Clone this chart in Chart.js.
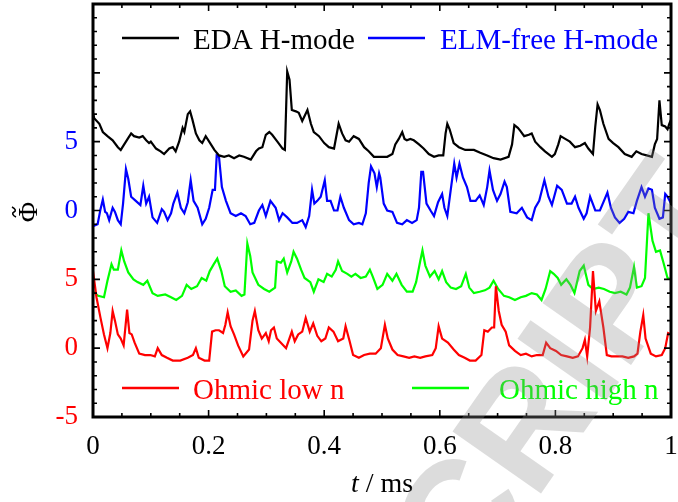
<!DOCTYPE html>
<html><head><meta charset="utf-8">
<script src="https://cdn.jsdelivr.net/npm/chart.js@4.4.1/dist/chart.umd.min.js"></script>
<style>html,body{margin:0;padding:0;background:#fff;}#wrap{width:678px;height:502px;}</style>
</head><body><div id="wrap"><canvas id="c" width="678" height="502"></canvas></div>
<script>
// ---- data (t in ms, values in the plot's stacked Phi units) ----
const edaT=[0,0.002,0.011,0.017,0.025,0.034,0.043,0.048,0.054,0.060,0.066,0.071,0.080,0.086,0.092,0.097,0.100,0.109,0.117,0.123,0.132,0.138,0.143,0.149,0.155,0.158,0.164,0.168,0.172,0.178,0.184,0.189,0.195,0.201,0.210,0.218,0.227,0.235,0.244,0.253,0.261,0.273,0.282,0.287,0.293,0.299,0.305,0.310,0.319,0.328,0.332,0.336,0.340,0.344,0.351,0.356,0.362,0.371,0.377,0.382,0.391,0.400,0.408,0.417,0.425,0.431,0.437,0.443,0.451,0.460,0.469,0.477,0.486,0.497,
0.509,0.518,0.523,0.529,0.535,0.539,0.543,0.549,0.555,0.564,0.572,0.581,0.590,0.598,0.606,0.610,0.613,0.617,0.624,0.633,0.644,0.659,0.670,0.682,0.693,0.705,0.719,0.725,0.729,0.735,0.739,0.746,0.754,0.759,0.765,0.774,0.782,0.794,0.799,0.805,0.809,0.817,0.825,0.834,0.843,0.851,0.857,0.865,0.869,0.873,0.877,0.883,0.892,0.900,0.909,0.920,0.932,0.940,0.949,0.958,0.967,0.972,0.976,0.980,0.984,0.990,0.994,0.997,1.0];
const edaV=[17.1,16.7,16.3,15.7,15.4,15.1,14.6,14.4,14.8,15.2,15.6,15.4,15.3,15.4,15.1,14.9,15.0,14.5,14.3,14.1,14.5,14.6,14.3,15.0,16.0,15.7,17.0,17.2,16.6,15.6,15.1,14.9,15.4,15.0,14.4,14.0,13.9,14.0,13.8,14.0,13.9,13.7,14.3,14.5,14.6,15.5,15.7,15.5,15.0,14.5,14.4,20.1,19.5,17.3,17.2,17.1,16.5,17.3,16.3,15.7,15.4,14.9,14.6,14.5,16.3,15.6,15.1,15.0,15.4,15.2,14.6,14.3,13.9,13.9,
13.9,14.1,14.8,15.2,15.7,15.2,15.1,15.2,15.1,14.8,14.5,14.1,13.9,14.0,14.0,15.6,16.3,15.9,14.9,14.6,14.4,14.4,14.2,14.0,13.8,13.7,13.9,14.8,16.2,16.0,15.8,15.4,15.5,15.6,15.0,14.6,14.3,13.9,14.1,14.8,15.4,15.2,15.0,14.6,14.7,14.9,14.5,14.1,16.1,17.7,17.3,16.3,15.2,14.9,14.6,14.1,13.9,14.3,14.1,14.0,13.9,14.8,15.2,18.0,16.2,16.1,15.9,16.3,16.6];

const elmT=[0,0.002,0.008,0.013,0.017,0.021,0.024,0.028,0.034,0.038,0.043,0.048,0.052,0.057,0.061,0.066,0.074,0.082,0.087,0.092,0.097,0.103,0.111,0.119,0.123,0.129,0.135,0.139,0.146,0.152,0.158,0.164,0.169,0.174,0.181,0.189,0.195,0.201,0.207,0.211,0.214,0.218,0.223,0.230,0.238,0.247,0.256,0.264,0.272,0.279,0.287,0.293,0.299,0.307,0.316,0.322,0.328,0.336,0.345,0.353,0.362,0.368,0.374,0.379,0.383,0.388,0.394,0.401,0.405,0.411,0.417,0.423,0.428,0.434,0.443,0.451,0.460,0.466,0.472,0.477,0.481,0.487,0.491,0.495,
0.497,0.503,0.509,0.518,0.526,0.535,0.543,0.552,0.560,0.564,0.568,0.571,0.577,0.584,0.590,0.597,0.604,0.608,0.613,0.618,0.625,0.629,0.634,0.640,0.647,0.653,0.662,0.669,0.676,0.682,0.686,0.692,0.699,0.705,0.712,0.716,0.722,0.733,0.742,0.751,0.759,0.765,0.772,0.781,0.788,0.794,0.803,0.811,0.820,0.828,0.834,0.840,0.849,0.854,0.860,0.869,0.877,0.884,0.890,0.896,0.903,0.911,0.919,0.926,0.935,0.941,0.949,0.955,0.961,0.967,0.972,0.980,0.986,0.990,0.994,0.999,1.0];
const elmV=[9.0,8.9,9.0,10.1,10.8,9.9,9.8,9.3,10.2,9.9,9.3,9.0,10.5,13.0,12.3,11.0,10.7,10.4,11.8,10.5,11.0,9.5,9.1,10.1,9.9,9.3,9.8,10.5,11.3,10.2,9.8,10.6,12.2,10.7,10.2,9.0,9.4,10.2,11.5,11.5,14.0,13.9,11.7,10.7,9.8,9.6,9.8,9.6,9.0,9.1,10.0,10.4,9.6,10.7,10.2,9.3,9.8,9.5,9.1,9.1,9.3,8.8,9.6,11.5,10.5,10.7,11.0,12.2,10.7,10.7,10.0,10.0,11.0,10.2,9.3,9.0,9.1,9.0,9.8,12.0,13.2,12.7,11.7,12.7,
12.4,10.5,10.0,9.9,9.1,9.0,9.3,9.1,9.3,10.2,12.8,12.8,10.5,10.0,9.6,10.6,11.2,10.2,9.6,11.2,13.4,12.4,13.4,12.4,11.7,10.7,10.7,11.1,10.4,11.7,12.9,11.5,10.7,11.2,12.1,11.7,9.9,9.8,10.2,9.5,9.3,10.2,10.7,12.2,11.0,10.4,11.8,11.5,10.5,10.5,11.0,10.2,9.4,9.8,11.0,10.0,10.0,10.7,11.3,10.2,9.5,9.1,9.4,9.9,9.8,10.7,11.7,11.0,11.6,11.5,10.2,9.4,9.5,11.2,11.0,10.6,10.8];

const highT=[0,0.003,0.009,0.019,0.025,0.032,0.036,0.043,0.049,0.054,0.061,0.070,0.077,0.087,0.094,0.103,0.112,0.125,0.135,0.144,0.154,0.162,0.170,0.180,0.188,0.196,0.202,0.209,0.215,0.222,0.228,0.238,0.247,0.257,0.262,0.267,0.272,0.276,0.286,0.296,0.305,0.315,0.318,0.325,0.330,0.336,0.343,0.347,0.353,0.360,0.366,0.376,0.382,0.390,0.399,0.405,0.413,0.420,0.424,0.431,0.440,0.447,0.454,0.463,0.472,0.479,0.484,0.492,0.501,0.509,0.518,0.525,0.534,0.543,0.553,0.559,0.566,0.570,0.575,0.583,0.591,0.598,0.604,0.611,0.619,0.628,0.637,0.645,0.651,0.659,0.669,0.678,0.686,0.693,0.701,0.711,0.720,0.730,0.740,0.749,0.759,0.768,0.776,0.783,0.791,0.797,0.804,0.810,0.819,0.826,0.833,0.842,0.849,0.857,0.865,0.875,0.884,0.894,0.903,0.913,0.923,0.929,0.936,0.941,0.949,0.955,0.961,0.968,0.974,0.981,0.987,0.994,1.000];
const highV=[4.1,4.0,3.8,3.7,4.9,6.1,5.7,5.7,7.1,6.3,5.5,5.0,4.8,4.6,4.9,4.0,3.8,3.9,3.7,3.5,3.8,4.6,4.3,4.5,5.1,4.9,5.6,6.1,6.5,5.6,4.5,4.1,4.2,3.8,3.9,7.6,6.7,5.5,4.6,4.3,4.1,4.4,6.3,6.2,6.5,5.5,6.3,7.0,6.5,5.7,5.1,4.8,4.1,5.0,4.8,5.4,5.2,5.7,6.3,5.6,5.4,5.2,5.4,5.1,5.2,5.7,5.2,4.3,4.6,5.4,4.9,5.4,4.6,4.1,4.1,4.8,6.3,7.1,6.0,5.2,5.6,5.0,5.6,4.8,4.4,4.3,4.5,5.4,4.4,4.0,4.1,4.2,4.4,4.9,4.3,3.8,3.7,3.5,3.7,3.8,4.0,3.9,3.5,4.3,5.6,5.4,5.1,4.6,5.0,4.6,4.0,5.6,6.0,4.6,4.3,4.4,4.3,4.1,4.0,4.1,3.9,4.4,5.9,4.4,4.5,5.1,9.8,7.8,7.0,7.1,6.2,5.1,5.0];

const lowT=[0.000,0.006,0.013,0.019,0.025,0.030,0.034,0.038,0.043,0.048,0.053,0.059,0.063,0.067,0.072,0.080,0.090,0.099,0.107,0.112,0.119,0.128,0.138,0.151,0.164,0.173,0.178,0.183,0.193,0.201,0.206,0.212,0.218,0.225,0.229,0.233,0.238,0.244,0.251,0.260,0.270,0.276,0.280,0.286,0.292,0.299,0.304,0.308,0.313,0.318,0.325,0.334,0.344,0.349,0.355,0.362,0.368,0.375,0.381,0.388,0.395,0.402,0.408,0.416,0.424,0.433,0.437,0.444,0.450,0.460,0.469,0.479,0.489,0.498,0.505,0.510,0.518,0.527,0.537,0.547,0.556,0.566,0.575,0.587,0.593,0.598,0.604,0.614,0.624,0.633,0.643,0.652,0.662,0.672,0.677,0.683,0.690,0.694,0.697,0.702,0.707,0.714,0.720,0.730,0.740,0.749,0.759,0.768,0.778,0.784,0.791,0.801,0.810,0.820,0.830,0.839,0.847,0.851,0.855,0.860,0.865,0.870,0.876,0.883,0.889,0.897,0.907,0.916,0.926,0.936,0.942,0.947,0.952,0.956,0.965,0.974,0.984,0.990,0.995,1.000];
const lowV=[5.6,3.7,2.2,1.0,0.0,1.1,2.7,2.0,1.0,0.7,0.2,2.8,1.1,1.0,0.4,-0.4,-0.5,-0.5,-0.6,0.0,-0.5,-0.7,-0.9,-0.9,-0.7,-0.5,0.0,-0.7,-0.9,-0.9,1.2,1.3,1.3,1.1,1.7,2.6,1.6,1.0,0.2,-0.6,-0.1,2.0,2.7,1.3,0.7,1.1,0.5,1.3,1.5,0.7,0.4,0.0,1.2,0.5,1.0,1.2,2.2,1.2,1.8,0.9,0.5,0.7,1.5,1.2,0.5,0.7,1.6,0.5,-0.5,-0.7,-0.5,-0.4,-0.4,0.0,1.7,0.7,-0.1,-0.5,-0.6,-0.7,-0.6,-0.7,-0.6,-0.5,0.0,1.6,0.7,0.4,-0.1,-0.5,-0.7,-0.9,-0.9,-0.5,1.3,1.2,1.5,1.5,4.5,2.7,1.7,1.2,0.2,-0.2,-0.5,-0.4,-0.6,-0.5,-0.5,0.4,0.0,-0.2,-0.5,-0.6,-0.7,-0.6,0.0,0.6,-0.6,1.5,5.6,2.7,3.4,1.5,-0.5,-0.6,-0.6,-0.6,-0.7,-0.6,-0.4,1.2,2.4,0.7,-0.4,-0.6,-0.5,0.0,1.1,1.0];

const seriesNames=["EDA H-mode","ELM-free H-mode","Ohmic low n","Ohmic high n"];
const seriesColors=["#000000","#0000ff","#ff0000","#00ff00"];
const yTickText={"-5":"-5","0":"0","5":"5","10":"0","15":"5"};
const yTickColor={"-5":"#ff0000","0":"#ff0000","5":"#ff0000","10":"#0000ff","15":"#0000ff"};
const yMin=-5, yMax=25, xMin=0, xMax=1;

function pts(t,v){return t.map((x,i)=>({x:x,y:v[i]}));}

const SERIF='"Liberation Serif","Times New Roman",serif';

const decor={
  id:'decor',
  afterDatasetsDraw(chart){
    const {ctx,chartArea:a,scales:{x,y}}=chart;
    ctx.save();
    ctx.strokeStyle='#000';
    ctx.lineWidth=1.6;
    ctx.beginPath();
    for(let i=0;i<=20;i++){
      const px=x.getPixelForValue(xMin+i*0.05);
      const len=(i%4===0)?7:4;
      ctx.moveTo(px,a.bottom);ctx.lineTo(px,a.bottom-len);
      ctx.moveTo(px,a.top);ctx.lineTo(px,a.top+len);
    }
    for(let v=yMin;v<=yMax;v++){
      const py=y.getPixelForValue(v);
      const len=(v%5===0)?7:4;
      ctx.moveTo(a.left,py);ctx.lineTo(a.left+len,py);
      ctx.moveTo(a.right,py);ctx.lineTo(a.right-len,py);
    }
    ctx.stroke();
    ctx.lineWidth=3;
    ctx.strokeRect(a.left,a.top,a.right-a.left,a.bottom-a.top);

    // legend
    const leg=[
      {i:0,lx:29,ly:a.top+34,tx:100},
      {i:1,lx:275,ly:a.top+34,tx:347},
      {i:2,lx:29,ly:a.bottom-29,tx:100},
      {i:3,lx:319,ly:a.bottom-29,tx:406}
    ];
    ctx.font='29px '+SERIF;
    ctx.textBaseline='alphabetic';
    ctx.textAlign='left';
    leg.forEach(e=>{
      const c=seriesColors[e.i];
      ctx.strokeStyle=c;ctx.lineWidth=2.5;
      ctx.beginPath();
      ctx.moveTo(a.left+e.lx,e.ly);ctx.lineTo(a.left+e.lx+57,e.ly);
      ctx.stroke();
      ctx.fillStyle=c;
      ctx.fillText(seriesNames[e.i],a.left+e.tx,e.ly+10.5);
    });

    // x title
    ctx.fillStyle='#000';
    const cx=(a.left+a.right)/2;
    ctx.font='italic 28px '+SERIF;
    const w1=ctx.measureText('t').width;
    ctx.font='28px '+SERIF;
    const w2=ctx.measureText(' / ms').width;
    const sx=cx-(w1+w2)/2;
    ctx.font='italic 28px '+SERIF;
    ctx.fillText('t',sx,492);
    ctx.font='28px '+SERIF;
    ctx.fillText(' / ms',sx+w1,492);

    // y title: Phi with tilde (rotated)
    ctx.save();
    ctx.translate(29,212);
    ctx.rotate(-Math.PI/2);
    ctx.textAlign='center';
    ctx.textBaseline='middle';
    ctx.font='28px '+SERIF;
    ctx.fillText('\u03A6',0,1);
    ctx.strokeStyle='#000';
    ctx.lineWidth=1.6;
    ctx.beginPath();
    ctx.moveTo(-5,-13);
    ctx.bezierCurveTo(-3,-17,-1,-17,0,-15);
    ctx.bezierCurveTo(1,-13,3,-13,5,-17);
    ctx.stroke();
    ctx.restore();

    ctx.restore();
  },
  afterDraw(chart){
    const ctx=chart.ctx;
    ctx.save();
    ctx.translate(470,595);
    ctx.rotate(-55*Math.PI/180);
    ctx.font='bold 157px "Liberation Sans",Arial,sans-serif';
    ctx.fillStyle='rgba(140,140,140,0.30)';
    ctx.fillText('CRIPT',0,0);
    ctx.restore();
  }
};

new Chart(document.getElementById('c'),{
  type:'line',
  data:{datasets:[
    {label:seriesNames[0],data:pts(edaT,edaV),borderColor:seriesColors[0]},
    {label:seriesNames[1],data:pts(elmT,elmV),borderColor:seriesColors[1]},
    {label:seriesNames[2],data:pts(lowT,lowV),borderColor:seriesColors[2]},
    {label:seriesNames[3],data:pts(highT,highV),borderColor:seriesColors[3]}
  ]},
  options:{
    responsive:false,animation:false,devicePixelRatio:1,
    parsing:false,
    elements:{line:{borderWidth:2.2,tension:0},point:{radius:0}},
    layout:{padding:{top:4,right:7,left:0,bottom:0}},
    plugins:{legend:{display:false},tooltip:{enabled:false}},
    scales:{
      x:{type:'linear',min:xMin,max:xMax,
        grid:{display:false,drawTicks:false},border:{display:false},
        ticks:{stepSize:0.2,color:'#000',padding:14,maxRotation:0,font:{family:SERIF,size:27},
          callback:v=>String(Math.round(v*10)/10)},
        afterFit(s){s.height=85;s.paddingLeft=0;s.paddingRight=0;}
      },
      y:{type:'linear',min:yMin,max:yMax,
        grid:{display:false,drawTicks:false},border:{display:false},
        ticks:{stepSize:5,padding:15,font:{family:SERIF,size:27},
          color:c=>yTickColor[String(c.tick.value)]||'#000',
          callback:v=>yTickText[String(v)]||''},
        afterFit(s){s.width=93;s.paddingTop=0;s.paddingBottom=0;}
      }
    }
  },
  plugins:[decor]
});
</script></body></html>
